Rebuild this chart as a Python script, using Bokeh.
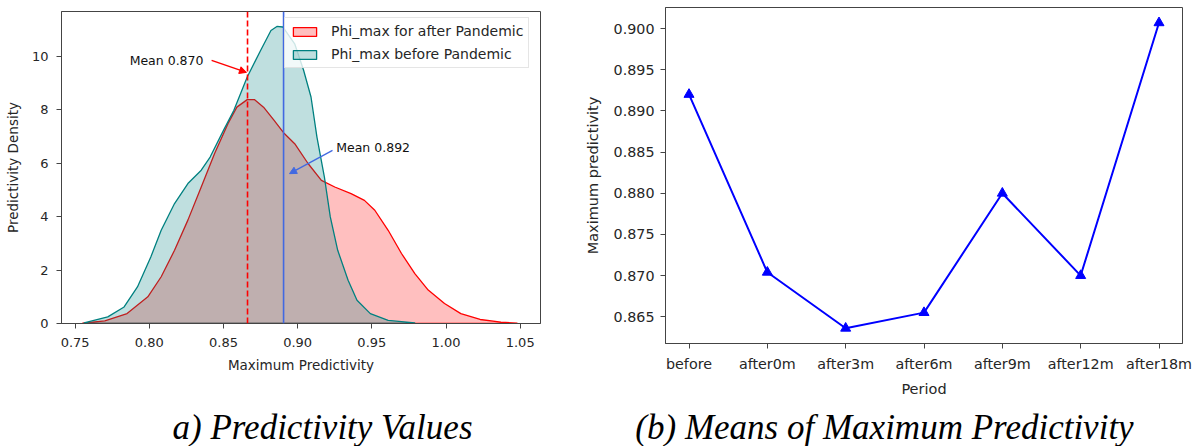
from bokeh.plotting import figure
from bokeh.layouts import row, column
from bokeh.models import (Range1d, FixedTicker, PrintfTickFormatter, Span, Label,
                          Arrow, NormalHead, Legend, LegendItem)
from bokeh.embed import file_html
from bokeh.resources import INLINE

FONT = "DejaVu Sans"
SERIF = "Liberation Serif"

# ---------------- data: (a) KDE curves ----------------
after_x = [0.755, 0.770, 0.785, 0.799, 0.808, 0.817, 0.826, 0.835, 0.844, 0.853,
           0.859, 0.866, 0.871, 0.877, 0.884, 0.891, 0.898, 0.907, 0.916, 0.925,
           0.936, 0.945, 0.952, 0.961, 0.970, 0.979, 0.988, 0.999, 1.010, 1.023,
           1.037, 1.048]
after_y = [0.01, 0.10, 0.37, 1.00, 1.75, 2.74, 3.87, 5.11, 6.36, 7.48,
           8.10, 8.38, 8.38, 8.10, 7.61, 7.11, 6.73, 5.99, 5.36, 5.11,
           4.86, 4.61, 4.24, 3.49, 2.62, 1.87, 1.25, 0.75, 0.37, 0.15,
           0.05, 0.01]
before_x = [0.756, 0.772, 0.783, 0.792, 0.801, 0.808, 0.817, 0.826, 0.835, 0.841,
            0.850, 0.857, 0.866, 0.875, 0.882, 0.886, 0.890, 0.898, 0.904, 0.909,
            0.913, 0.918, 0.922, 0.927, 0.934, 0.940, 0.949, 0.961, 0.979]
before_y = [0.02, 0.25, 0.62, 1.37, 2.49, 3.49, 4.49, 5.24, 5.74, 6.23,
            7.23, 7.98, 9.23, 10.22, 10.97, 11.12, 11.10, 10.47, 9.48, 8.48,
            6.98, 5.49, 3.99, 2.74, 1.62, 0.87, 0.37, 0.12, 0.02]
series_names = ["Phi_max for after Pandemic", "Phi_max before Pandemic"]
mean_lines = [0.8662, 0.8905]
mean_labels = ["Mean 0.870", "Mean 0.892"]
kde_x_ticks = [0.75, 0.80, 0.85, 0.90, 0.95, 1.00, 1.05]
kde_y_ticks = [0, 2, 4, 6, 8, 10]

# ---------------- data: (b) means per period ----------------
periods = ["before", "after0m", "after3m", "after6m", "after9m", "after12m", "after18m"]
period_means = [0.8920, 0.8704, 0.8636, 0.8655, 0.8800, 0.8700, 0.9007]
mean_y_ticks = [0.865, 0.870, 0.875, 0.880, 0.885, 0.890, 0.895, 0.900]

captions = ["a) Predictivity Values", "(b) Means of Maximum Predictivity"]

TXT = "#262626"
EDGE = "#444444"


def style_axes(p, tick_size, label_size):
    p.xgrid.visible = False
    p.ygrid.visible = False
    p.outline_line_color = EDGE
    p.outline_line_width = 1
    if "frame_align" in p.properties():
        p.frame_align = False
    for ax in (p.xaxis[0], p.yaxis[0]):
        ax.axis_line_color = EDGE
        ax.major_tick_line_color = EDGE
        ax.major_tick_out = 5
        ax.major_tick_in = 0
        ax.minor_tick_line_color = None
        ax.major_label_text_font = FONT
        ax.major_label_text_font_size = tick_size
        ax.major_label_text_color = TXT
        ax.axis_label_text_font = FONT
        ax.axis_label_text_font_size = label_size
        ax.axis_label_text_font_style = "normal"
        ax.axis_label_text_color = TXT


# ---------------- (a) ----------------
p1 = figure(width=580, height=400, output_backend="svg", toolbar_location=None,
            x_range=Range1d(0.7408, 1.0637), y_range=Range1d(0, 11.68),
            min_border_left=61, min_border_right=40, min_border_top=11,
            min_border_bottom=77)
style_axes(p1, "13px", "13.5px")
p1.xaxis.ticker = FixedTicker(ticks=kde_x_ticks)
p1.xaxis.formatter = PrintfTickFormatter(format="%.2f")
p1.yaxis.ticker = FixedTicker(ticks=kde_y_ticks)
p1.xaxis.axis_label = "Maximum Predictivity"
p1.yaxis.axis_label = "Predictivity Density"
p1.xaxis.major_label_standoff = 9
p1.xaxis.axis_label_standoff = 7
p1.yaxis.major_label_standoff = 8
p1.yaxis.axis_label_standoff = 8

r_after = p1.patch(after_x + [after_x[-1], after_x[0]], after_y + [0, 0],
                   fill_color="red", fill_alpha=0.25, line_color="red", line_width=1.3)
r_before = p1.patch(before_x + [before_x[-1], before_x[0]], before_y + [0, 0],
                    fill_color="teal", fill_alpha=0.25, line_color="teal", line_width=1.3)

p1.add_layout(Span(location=mean_lines[0], dimension="height", line_color="red",
                   line_dash="6 3", line_width=1.6))
p1.add_layout(Span(location=mean_lines[1], dimension="height", line_color="royalblue",
                   line_width=1.6))

p1.add_layout(Arrow(end=NormalHead(size=7, fill_color="red", line_color="red"),
                    x_start=0.842, y_start=9.85, x_end=0.8655, y_end=9.40,
                    line_color="red", line_width=1.5))
p1.add_layout(Arrow(end=NormalHead(size=7, fill_color="royalblue", line_color="royalblue"),
                    x_start=0.9235, y_start=6.48, x_end=0.8945, y_end=5.61,
                    line_color="royalblue", line_width=1.3))
p1.add_layout(Label(x=0.8365, y=9.83, text=mean_labels[0], text_align="right",
                    text_baseline="middle", text_font=FONT, text_font_size="12.5px",
                    text_color="#111111"))
p1.add_layout(Label(x=0.926, y=6.58, text=mean_labels[1], text_align="left",
                    text_baseline="middle", text_font=FONT, text_font_size="12.5px",
                    text_color="#111111"))

legend = Legend(items=[LegendItem(label=series_names[0], renderers=[r_after]),
                       LegendItem(label=series_names[1], renderers=[r_before])],
                location=(223, 255), orientation="vertical",
                label_text_font=FONT, label_text_font_size="14px",
                label_text_color=TXT, glyph_width=29, glyph_height=11,
                label_standoff=12, padding=5, spacing=7, label_height=16,
                margin=0, border_line_color="#cccccc", background_fill_alpha=0.8)
p1.add_layout(legend)

# ---------------- (b) ----------------
p2 = figure(width=619, height=400, output_backend="svg", toolbar_location=None,
            x_range=Range1d(-0.3, 6.3), y_range=Range1d(0.86175, 0.90256),
            min_border_left=85, min_border_right=17, min_border_top=7,
            min_border_bottom=57)
style_axes(p2, "14.3px", "14.5px")
xs = list(range(len(periods)))
p2.xaxis.ticker = FixedTicker(ticks=xs)
p2.xaxis.major_label_overrides = {i: name for i, name in enumerate(periods)}
p2.yaxis.ticker = FixedTicker(ticks=mean_y_ticks)
p2.yaxis.formatter = PrintfTickFormatter(format="%.3f")
p2.xaxis.axis_label = "Period"
p2.yaxis.axis_label = "Maximum predictivity"
p2.xaxis.major_label_standoff = 7
p2.xaxis.axis_label_standoff = 6
p2.yaxis.major_label_standoff = 6
p2.yaxis.axis_label_standoff = 10

p2.line(xs, period_means, line_color="blue", line_width=2)
p2.scatter(xs, period_means, marker="triangle", size=10, fill_color="blue",
           line_color="blue")

# ---------------- captions strip ----------------
pc = figure(width=1199, height=46, output_backend="svg", toolbar_location=None,
            title_location=None,
            x_range=Range1d(0, 1199), y_range=Range1d(0, 46),
            x_axis_type=None, y_axis_type=None, min_border=0)
pc.grid.visible = False
pc.outline_line_color = None
if "frame_align" in pc.properties():
    pc.frame_align = False
for cx, txt in zip([322, 884], captions):
    pc.add_layout(Label(x=cx, y=19, x_units="data", y_units="screen", text=txt,
                        text_align="center", text_baseline="middle", text_font=SERIF,
                        text_font_style="italic", text_font_size="35px",
                        text_color="#000000"))

layout = column(row(p1, p2, spacing=0), pc, spacing=0)
open("out.html", "w").write(file_html(layout, INLINE))
